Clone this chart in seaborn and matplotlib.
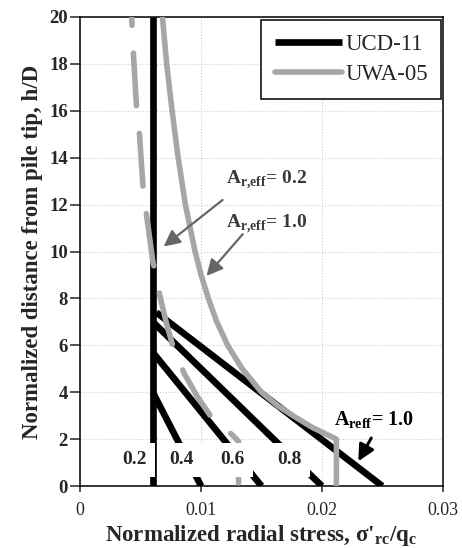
import matplotlib
matplotlib.use('Agg')
import matplotlib.pyplot as plt
import seaborn as sns
import pandas as pd
from matplotlib.ticker import FuncFormatter, MultipleLocator

# UCD-11 lines for each A_r,eff (straight lines from start point to end point)
a_reff = ['0.2', '0.4', '0.6', '0.8', '1.0']
ucd_start_x = [0.006, 0.006, 0.006, 0.006, 0.0063]
ucd_start_h = [20.0, 4.0, 5.7, 7.0, 7.4]
ucd_end_x = [0.006, 0.010, 0.015, 0.020, 0.025]
ucd_end_h = [0.0, 0.0, 0.0, 0.0, 0.0]

# UWA-05, A_r,eff = 1.0 (solid gray)
uwa10_h = [20.0, 18.0, 16.0, 14.0, 12.0, 10.0, 9.0, 8.0, 7.0, 6.0, 5.0, 4.0,
           3.4, 3.0, 2.5, 2.0, 0.0]
uwa10_x = [0.0068, 0.00715, 0.0076, 0.0081, 0.0087, 0.0095, 0.0100, 0.0106,
           0.0113, 0.0122, 0.0134, 0.0150, 0.0164, 0.0176, 0.0192, 0.0212, 0.0212]

# UWA-05, A_r,eff = 0.2 (dashed gray)
uwa02_h = [20.0, 18.4, 16.1, 15.0, 12.7, 11.5, 9.6, 8.1, 7.0, 5.9, 4.8, 3.8,
           2.9, 2.17, 1.9, 0.0]
uwa02_x = [0.00425, 0.0044, 0.00466, 0.0049, 0.0052, 0.0055, 0.006, 0.0066,
           0.0071, 0.0077, 0.0086, 0.0097, 0.0109, 0.0126, 0.0131, 0.0131]

# labels of the A_r,eff values along the bottom
label_x = [0.00447, 0.00834, 0.0126, 0.0173]
label_h = [1.12, 1.12, 1.12, 1.12]

sns.set_style('ticks')
plt.rcParams['font.family'] = ['Liberation Serif', 'DejaVu Serif']
plt.rcParams['mathtext.fontset'] = 'custom'
plt.rcParams['mathtext.rm'] = 'Liberation Serif'
plt.rcParams['mathtext.bf'] = 'Liberation Serif:bold'

fig = plt.figure(figsize=(4.62, 5.48), dpi=100)
ax = fig.add_axes([0.1738, 0.1131, 0.7844, 0.8559])

black = '#000000'
gray = '#a6a6a6'

# UCD-11
for i in range(len(a_reff)):
    seg = pd.DataFrame({'x': [ucd_start_x[i], ucd_end_x[i]],
                        'h': [ucd_start_h[i], ucd_end_h[i]]})
    sns.lineplot(data=seg, x='x', y='h', sort=False, estimator=None, ax=ax,
                 color=black, lw=4.8, solid_capstyle='butt', zorder=3,
                 label='UCD-11' if i == 0 else None)

# UWA-05
df10 = pd.DataFrame({'x': uwa10_x, 'h': uwa10_h})
sns.lineplot(data=df10, x='x', y='h', sort=False, estimator=None, ax=ax,
             color=gray, lw=4.0, zorder=4, label='UWA-05')
df02 = pd.DataFrame({'x': uwa02_x, 'h': uwa02_h})
sns.lineplot(data=df02, x='x', y='h', sort=False, estimator=None, ax=ax,
             color=gray, lw=4.0, zorder=4, linestyle=(8, (9.5, 5)),
             dash_capstyle='round', legend=False)

# bottom value labels on white boxes
for lx, lh, t in zip(label_x, label_h, a_reff[:4]):
    ax.text(lx, lh, t, ha='center', va='center', fontsize=14, fontweight='bold',
            zorder=6, bbox=dict(boxstyle='square,pad=0.45', fc='white', ec='none'))

# annotations
ax.text(0.0121, 12.88, r'A$_{\mathbf{r{,}eff}}$= 0.2', fontsize=14,
        fontweight='bold', color='#3a3a3a', va='baseline', ha='left', zorder=6)
ax.text(0.0121, 11.0, r'A$_{\mathbf{r{,}eff}}$= 1.0', fontsize=14,
        fontweight='bold', color='#3a3a3a', va='baseline', ha='left', zorder=6)
ax.annotate('', xy=(0.00672, 10.14), xytext=(0.01196, 12.27),
            arrowprops=dict(arrowstyle='-|>,head_length=0.7,head_width=0.35',
                            color='#666666', lw=1.6, mutation_scale=14), zorder=6)
ax.annotate('', xy=(0.0103, 8.87), xytext=(0.0136, 10.83),
            arrowprops=dict(arrowstyle='-|>,head_length=0.7,head_width=0.35',
                            color='#666666', lw=1.6, mutation_scale=14), zorder=6)
ax.text(0.0210, 2.56, r'A$_{\mathbf{reff}}$= 1.0', fontsize=14.5,
        fontweight='bold', color=black, va='baseline', ha='left', zorder=6)
ax.annotate('', xy=(0.0229, 0.95), xytext=(0.0242, 2.15),
            arrowprops=dict(arrowstyle='-|>,head_length=0.7,head_width=0.35',
                            color=black, lw=2.2, mutation_scale=14), zorder=6)

ax.set_xlim(0, 0.03)
ax.set_ylim(0, 20)
ax.xaxis.set_major_locator(MultipleLocator(0.01))
ax.yaxis.set_major_locator(MultipleLocator(2))
ax.xaxis.set_major_formatter(FuncFormatter(lambda v, p: '0' if v == 0 else '%g' % v))
ax.grid(True, color='#cccccc', linestyle=':', lw=0.8)
ax.tick_params(axis='y', direction='out', length=7, width=1.1, labelsize=13.5, pad=2)
ax.tick_params(axis='x', direction='out', length=4.5, width=1.1, labelsize=13, pad=7)
for lab in ax.get_yticklabels():
    lab.set_fontweight('bold')
for s in ax.spines.values():
    s.set_visible(True)
    s.set_linewidth(1.1)
    s.set_color('black')

ax.set_xlabel(r"Normalized radial stress, σ'$_{\mathbf{rc}}$/q$_{\mathbf{c}}$",
              fontsize=16.5, fontweight='bold', labelpad=3)
ax.set_ylabel('Normalized distance from pile tip, h/D', fontsize=16.5,
              fontweight='bold', labelpad=4)

leg = ax.legend(loc='upper right', bbox_to_anchor=(1.006, 1.0), fontsize=16.5,
                frameon=True, fancybox=False, framealpha=1, edgecolor='black',
                handlelength=2.9, handletextpad=0.15, borderaxespad=0.15,
                labelspacing=0.4, borderpad=0.6)
leg.get_frame().set_linewidth(1.1)
leg.set_zorder(10)

fig.savefig('out.png', dpi=100)
